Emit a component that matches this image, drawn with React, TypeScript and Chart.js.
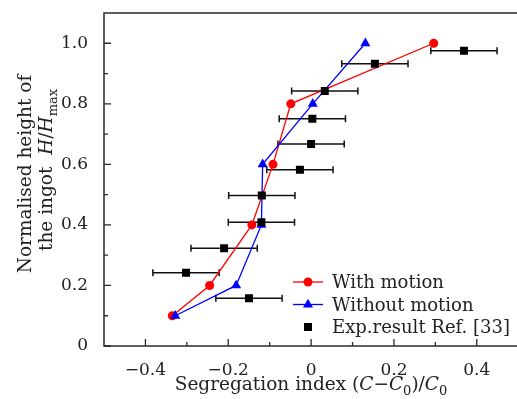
import React, { useEffect, useRef } from "react";
import { Chart, registerables } from "chart.js";

Chart.register(...registerables);

// ---- data ----
const WITH_X = [-0.335, -0.245, -0.143, -0.092, -0.049, 0.296];
const WITH_Y = [0.1, 0.2, 0.4, 0.6, 0.8, 1.0];
const WITHOUT_X = [-0.328, -0.181, -0.12, -0.117, 0.004, 0.131];
const WITHOUT_Y = [0.1, 0.2, 0.4, 0.6, 0.8, 1.0];
const EXP_X = [0.369, 0.154, 0.033, 0.003, 0.0, -0.027, -0.119, -0.12, -0.21, -0.302, -0.15];
const EXP_Y = [0.975, 0.932, 0.842, 0.751, 0.667, 0.582, 0.497, 0.409, 0.323, 0.242, 0.158];
const EXP_ERR = [0.08, 0.08, 0.08, 0.08, 0.08, 0.08, 0.08, 0.08, 0.08, 0.08, 0.08];

const X_TICKS = [-0.4, -0.2, 0, 0.2, 0.4];
const X_MINOR = [-0.3, -0.1, 0.1, 0.3];
const Y_TICKS = [0, 0.2, 0.4, 0.6, 0.8, 1.0];
const Y_MINOR = [0.1, 0.3, 0.5, 0.7, 0.9];

const LEGEND_LABELS = ["With motion", "Without motion", "Exp.result Ref. [33]"];

const FAM = '"DejaVu Serif", serif';
const TXT = "#222";
const RED = "#ff0000";
const BLUE = "#0000ff";

type Part = { t: string; it?: boolean; sub?: boolean };

function drawRich(ctx: CanvasRenderingContext2D, parts: Part[], cx: number, baseY: number, size: number) {
  const fontOf = (p: Part) => `${p.it ? "italic " : ""}${p.sub ? Math.round(size * 0.7) : size}px ${FAM}`;
  let total = 0;
  const widths = parts.map((p) => {
    ctx.font = fontOf(p);
    const w = ctx.measureText(p.t).width;
    total += w;
    return w;
  });
  let x = cx - total / 2;
  ctx.textAlign = "left";
  ctx.textBaseline = "alphabetic";
  parts.forEach((p, i) => {
    ctx.font = fontOf(p);
    ctx.fillText(p.t, x, baseY + (p.sub ? size * 0.25 : 0));
    x += widths[i];
  });
}

function marker(ctx: CanvasRenderingContext2D, kind: string, x: number, y: number) {
  ctx.beginPath();
  if (kind === "circle") {
    ctx.fillStyle = RED;
    ctx.arc(x, y, 4.5, 0, Math.PI * 2);
  } else if (kind === "triangle") {
    ctx.fillStyle = BLUE;
    const r = 5.8;
    ctx.moveTo(x, y - r);
    ctx.lineTo(x + r * 0.866, y + r * 0.5);
    ctx.lineTo(x - r * 0.866, y + r * 0.5);
    ctx.closePath();
  } else {
    ctx.fillStyle = "#000";
    ctx.rect(x - 4, y - 4, 8, 8);
  }
  ctx.fill();
}

const customPlugin = {
  id: "customDecor",
  beforeDatasetsDraw(chart: any) {
    const ctx = chart.ctx as CanvasRenderingContext2D;
    const xs = chart.scales.x;
    const ys = chart.scales.y;
    ctx.save();
    ctx.strokeStyle = "#111";
    ctx.lineWidth = 1.5;
    EXP_X.forEach((v, i) => {
      const y = ys.getPixelForValue(EXP_Y[i]);
      const x1 = xs.getPixelForValue(v - EXP_ERR[i]);
      const x2 = xs.getPixelForValue(v + EXP_ERR[i]);
      ctx.beginPath();
      ctx.moveTo(x1, y);
      ctx.lineTo(x2, y);
      ctx.moveTo(x1, y - 3.5);
      ctx.lineTo(x1, y + 3.5);
      ctx.moveTo(x2, y - 3.5);
      ctx.lineTo(x2, y + 3.5);
      ctx.stroke();
    });
    ctx.restore();
  },
  afterDraw(chart: any) {
    const ctx = chart.ctx as CanvasRenderingContext2D;
    const a = chart.chartArea;
    const xs = chart.scales.x;
    const ys = chart.scales.y;
    ctx.save();
    // frame
    ctx.strokeStyle = "#2a2a2a";
    ctx.lineWidth = 1.5;
    ctx.strokeRect(a.left, a.top, a.right - a.left, a.bottom - a.top);
    // ticks
    ctx.lineWidth = 1.3;
    ctx.beginPath();
    Y_TICKS.forEach((v) => {
      const y = ys.getPixelForValue(v);
      ctx.moveTo(a.left, y);
      ctx.lineTo(a.left + 7, y);
    });
    Y_MINOR.forEach((v) => {
      const y = ys.getPixelForValue(v);
      ctx.moveTo(a.left, y);
      ctx.lineTo(a.left + 4, y);
    });
    X_TICKS.forEach((v) => {
      const x = xs.getPixelForValue(v);
      ctx.moveTo(x, a.bottom);
      ctx.lineTo(x, a.bottom - 7);
    });
    X_MINOR.forEach((v) => {
      const x = xs.getPixelForValue(v);
      ctx.moveTo(x, a.bottom);
      ctx.lineTo(x, a.bottom - 4);
    });
    ctx.stroke();

    // axis titles
    ctx.fillStyle = TXT;
    drawRich(
      ctx,
      [
        { t: "Segregation index (" },
        { t: "C", it: true },
        { t: "−" },
        { t: "C", it: true },
        { t: "0", sub: true },
        { t: ")/" },
        { t: "C", it: true },
        { t: "0", sub: true },
      ],
      311,
      390,
      18.5
    );
    ctx.save();
    ctx.translate(31, 174);
    ctx.rotate(-Math.PI / 2);
    drawRich(ctx, [{ t: "Normalised height of" }], 0, 0, 18.5);
    ctx.restore();
    ctx.save();
    ctx.translate(52, 170);
    ctx.rotate(-Math.PI / 2);
    drawRich(
      ctx,
      [{ t: "the ingot  " }, { t: "H", it: true }, { t: "/" }, { t: "H", it: true }, { t: "max", sub: true }],
      0,
      0,
      18.5
    );
    ctx.restore();

    // legend
    const rows = [282, 304.5, 327];
    const kinds = ["circle", "triangle", "square"];
    const cols = [RED, BLUE, null];
    rows.forEach((y, i) => {
      if (cols[i]) {
        ctx.strokeStyle = cols[i] as string;
        ctx.lineWidth = 1.3;
        ctx.beginPath();
        ctx.moveTo(293, y);
        ctx.lineTo(323, y);
        ctx.stroke();
      }
      marker(ctx, kinds[i], 308, y);
      ctx.fillStyle = TXT;
      ctx.font = `18px ${FAM}`;
      ctx.textAlign = "left";
      ctx.textBaseline = "alphabetic";
      ctx.fillText(LEGEND_LABELS[i], 332, y + 6);
    });
    ctx.restore();
  },
};

function fmt(v: number) {
  if (Math.abs(v) < 1e-9) return "0";
  return (v < 0 ? "−" : "") + Math.abs(v).toFixed(1);
}

export default function App() {
  const ref = useRef<HTMLCanvasElement | null>(null);
  useEffect(() => {
    if (!ref.current) return;
    const chart = new Chart(ref.current, {
      type: "scatter",
      data: {
        datasets: [
          {
            label: LEGEND_LABELS[2],
            data: EXP_X.map((x, i) => ({ x, y: EXP_Y[i] })),
            pointStyle: "rect",
            pointRadius: 5.66,
            backgroundColor: "#000",
            borderColor: "#000",
            borderWidth: 0,
            showLine: false,
            order: 0,
          },
          {
            label: LEGEND_LABELS[1],
            data: WITHOUT_X.map((x, i) => ({ x, y: WITHOUT_Y[i] })),
            pointStyle: "triangle",
            pointRadius: 5.8,
            backgroundColor: BLUE,
            borderColor: BLUE,
            borderWidth: 1.3,
            pointBorderWidth: 0,
            showLine: true,
            order: 1,
          },
          {
            label: LEGEND_LABELS[0],
            data: WITH_X.map((x, i) => ({ x, y: WITH_Y[i] })),
            pointStyle: "circle",
            pointRadius: 4.5,
            backgroundColor: RED,
            borderColor: RED,
            borderWidth: 1.3,
            pointBorderWidth: 0,
            showLine: true,
            order: 2,
          },
        ],
      },
      options: {
        animation: false,
        responsive: false,
        maintainAspectRatio: false,
        layout: { padding: { top: 13, right: 2, left: 0, bottom: 0 } },
        plugins: { legend: { display: false }, tooltip: { enabled: false } },
        scales: {
          x: {
            type: "linear",
            min: -0.5,
            max: 0.5,
            grid: { display: false },
            border: { display: false },
            afterBuildTicks: (s: any) => {
              s.ticks = X_TICKS.map((value) => ({ value }));
            },
            afterFit: (s: any) => {
              s.height = 53;
              s.paddingLeft = 0;
              s.paddingRight = 0;
            },
            ticks: {
              padding: 6,
              color: TXT,
              font: { family: FAM, size: 17 },
              callback: (v: any) => fmt(Number(v)),
              maxRotation: 0,
              autoSkip: false,
            },
          },
          y: {
            type: "linear",
            min: 0,
            max: 1.1,
            grid: { display: false },
            border: { display: false },
            afterBuildTicks: (s: any) => {
              s.ticks = Y_TICKS.map((value) => ({ value }));
            },
            afterFit: (s: any) => {
              s.width = 104;
              s.paddingTop = 0;
              s.paddingBottom = 0;
            },
            ticks: {
              padding: 8,
              color: TXT,
              font: { family: FAM, size: 17 },
              callback: (v: any) => fmt(Number(v)),
              autoSkip: false,
            },
          },
        },
      },
      plugins: [customPlugin],
    } as any);
    return () => chart.destroy();
  }, []);
  return (
    <div style={{ position: "fixed", left: 0, top: 0, width: 524, height: 399, background: "#fff" }}>
      <canvas ref={ref} width={524} height={399} style={{ width: 524, height: 399, display: "block" }} />
    </div>
  );
}
